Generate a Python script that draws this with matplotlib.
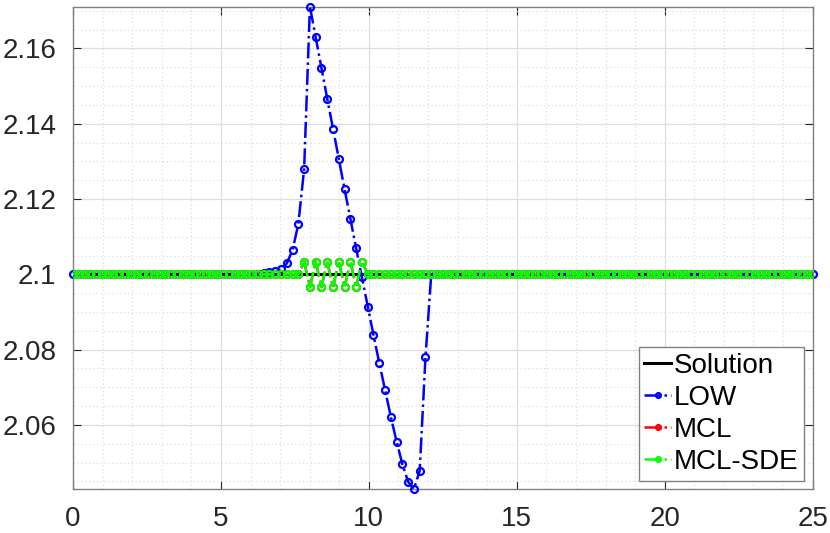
import numpy as np
import matplotlib
matplotlib.use('Agg')
from matplotlib import pyplot as plt
from matplotlib.ticker import MultipleLocator, FormatStrFormatter

plt.rcParams['font.family'] = ['Liberation Sans', 'DejaVu Sans']

# grid nodes, 128 cells over [0, 25]
x = np.linspace(0, 25, 129)

solution = [2.1] * 129

low = ([2.1] * 31 +
       [2.1001, 2.1002, 2.1003, 2.1005, 2.1009, 2.1013, 2.1029, 2.1065,
        2.1134, 2.1280, 2.1711, 2.1629, 2.1548, 2.1466, 2.1387, 2.1306,
        2.1226, 2.1147, 2.1069, 2.0992, 2.0914, 2.0839, 2.0765, 2.0693,
        2.0622, 2.0556, 2.0496, 2.0449, 2.0430, 2.0478, 2.0780] +
       [2.1] * 67)

osc = [2.1034, 2.0966, 2.1034, 2.0966, 2.1034, 2.0966,
       2.1034, 2.0966, 2.1034, 2.0966, 2.1034]
mcl_sde = [2.1] * 40 + osc + [2.1] * 78
mcl = list(mcl_sde)

fig = plt.figure(figsize=(8.3, 5.33), dpi=100)
ax = fig.add_axes([0.088, 0.0826, 0.891, 0.905])

style = dict(ls='-.', lw=1.8, marker='o', ms=5, mfc='none', mew=1.6)
ax.plot(x, solution, '-', color='k', lw=2.2, label='Solution', zorder=3)
ax.plot(x, low, color='b', label='LOW', zorder=4, clip_on=False, **style)
ax.plot(x, mcl, color='r', label='MCL', zorder=5, **style)
ax.plot(x, mcl_sde, color=(0, 1, 0), label='MCL-SDE', zorder=6, **style)

ax.set_xlim(0, 25)
ax.set_ylim(min(low), max(low))

ax.xaxis.set_major_locator(MultipleLocator(5))
ax.xaxis.set_minor_locator(MultipleLocator(1))
ax.yaxis.set_major_locator(MultipleLocator(0.02))
ax.yaxis.set_minor_locator(MultipleLocator(0.005))
ax.yaxis.set_major_formatter(FormatStrFormatter('%g'))

ax.grid(which='major', color='#dedede', lw=0.9, ls='-')
ax.grid(which='minor', color='#d8d8d8', lw=0.8, ls=(0, (1, 2.5)))
ax.set_axisbelow(True)

ax.tick_params(which='both', direction='in', top=True, right=True,
               labelsize=20, colors='#262626')
ax.tick_params(which='major', length=6)
ax.tick_params(which='minor', length=0)
ax.tick_params(axis='x', pad=12)
ax.tick_params(axis='y', pad=12)
for s in ax.spines.values():
    s.set_color('#808080')
    s.set_linewidth(1)

leg = ax.legend(loc='lower right', fontsize=20, frameon=True, fancybox=False,
                framealpha=1, edgecolor='#808080', handlelength=0.95,
                handletextpad=0.12, borderpad=0.2, labelspacing=0.22,
                borderaxespad=0.3, markerscale=0.7)
leg.get_frame().set_linewidth(1)

fig.savefig('out.png', dpi=100)
